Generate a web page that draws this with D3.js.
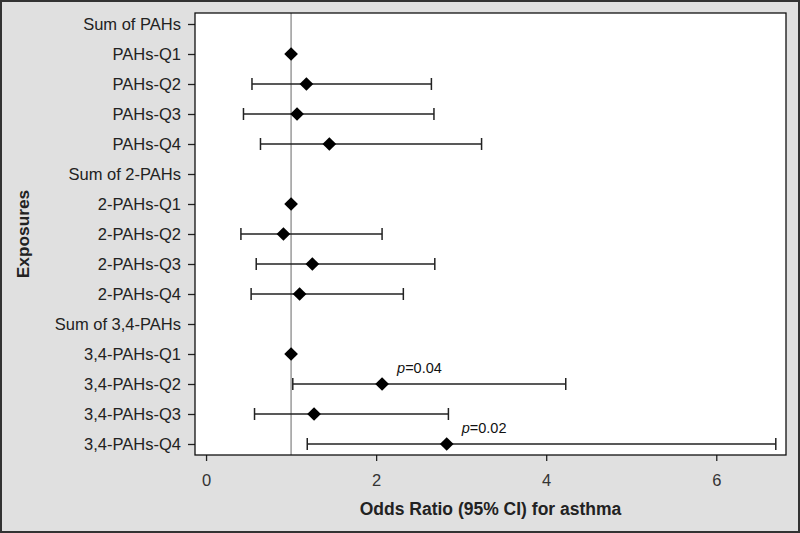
<!DOCTYPE html>
<html>
<head>
<meta charset="utf-8">
<script src="https://cdn.jsdelivr.net/npm/d3@7/dist/d3.min.js"></script>
<style>
  html, body { margin: 0; padding: 0; background: #fff; }
  svg { display: block; font-family: "Liberation Sans", Arial, sans-serif; }
</style>
</head>
<body>
<div id="chart"></div>
<script>
// --- datos ---
const exposures = [
  "Sum of PAHs", "PAHs-Q1", "PAHs-Q2", "PAHs-Q3", "PAHs-Q4",
  "Sum of 2-PAHs", "2-PAHs-Q1", "2-PAHs-Q2", "2-PAHs-Q3", "2-PAHs-Q4",
  "Sum of 3,4-PAHs", "3,4-PAHs-Q1", "3,4-PAHs-Q2", "3,4-PAHs-Q3", "3,4-PAHs-Q4"
];
// null = sin estimación (fila de encabezado)
const oddsRatio = [null, 1.00, 1.18, 1.07, 1.45, null, 1.00, 0.91, 1.25, 1.10, null, 1.00, 2.07, 1.27, 2.83];
const ciLower   = [null, null, 0.54, 0.44, 0.64, null, null, 0.41, 0.59, 0.53, null, null, 1.02, 0.57, 1.19];
const ciUpper   = [null, null, 2.65, 2.68, 3.24, null, null, 2.07, 2.69, 2.32, null, null, 4.23, 2.85, 6.70];
const pLabels   = [null, null, null, null, null, null, null, null, null, null, null, null, "0.04", null, "0.02"];
const xTicks = [0, 2, 4, 6];

const W = 800, H = 533;
const margin = {top: 13, right: 14, bottom: 78, left: 195};
const width = W - margin.left - margin.right,
      height = H - margin.top - margin.bottom;
const FONT = "'Liberation Sans', Arial, sans-serif";

const data = exposures.map((e, i) => ({
  name: e, or: oddsRatio[i], lo: ciLower[i], hi: ciUpper[i], p: pLabels[i]
}));

const svg = d3.select("#chart").append("svg")
  .attr("width", W).attr("height", H);

// fondo gris y borde exterior
svg.append("rect")
  .attr("x", 1).attr("y", 1).attr("width", W - 2).attr("height", H - 2)
  .attr("fill", "#e0e0e0").attr("stroke", "#333").attr("stroke-width", 2);

const g = svg.append("g").attr("transform", `translate(${margin.left},${margin.top})`);

// área del gráfico
g.append("rect")
  .attr("width", width).attr("height", height)
  .attr("fill", "#fff");

// --- escalas ---
const x = d3.scaleLinear().domain([-0.13, 6.82]).range([0, width]);
const y = d3.scalePoint().domain(exposures).range([11, height - 11]);

// línea de referencia OR = 1
g.append("line")
  .attr("x1", x(1)).attr("x2", x(1))
  .attr("y1", 0).attr("y2", height)
  .attr("stroke", "#9a9a9a").attr("stroke-width", 1.5);

// --- ejes ---
const xAxis = g.append("g")
  .attr("transform", `translate(0,${height})`)
  .call(d3.axisBottom(x).tickValues(xTicks).tickSize(6).tickPadding(13).tickFormat(d3.format("d")));
xAxis.select(".domain").remove();
xAxis.selectAll("line").attr("stroke", "#222").attr("stroke-width", 1.3);
xAxis.selectAll("text").attr("font-size", 16.5).attr("fill", "#333").attr("font-family", FONT);

const yAxis = g.append("g")
  .call(d3.axisLeft(y).tickSize(7).tickPadding(7));
yAxis.select(".domain").remove();
yAxis.selectAll("line").attr("stroke", "#222").attr("stroke-width", 1.3);
yAxis.selectAll("text").attr("font-size", 16.5).attr("fill", "#222").attr("font-family", FONT);

// marco del área
g.append("rect")
  .attr("width", width).attr("height", height)
  .attr("fill", "none").attr("stroke", "#111").attr("stroke-width", 1.3);

// --- intervalos de confianza ---
const ci = data.filter(d => d.lo != null);
const cap = 6;
const bars = g.selectAll(".ci").data(ci).enter().append("g")
  .attr("stroke", "#222").attr("stroke-width", 1.5);
bars.append("line")
  .attr("x1", d => x(d.lo)).attr("x2", d => x(d.hi))
  .attr("y1", d => y(d.name)).attr("y2", d => y(d.name));
bars.append("line")
  .attr("x1", d => x(d.lo)).attr("x2", d => x(d.lo))
  .attr("y1", d => y(d.name) - cap).attr("y2", d => y(d.name) + cap);
bars.append("line")
  .attr("x1", d => x(d.hi)).attr("x2", d => x(d.hi))
  .attr("y1", d => y(d.name) - cap).attr("y2", d => y(d.name) + cap);

// --- rombos (OR) ---
g.selectAll(".pt").data(data.filter(d => d.or != null)).enter()
  .append("path")
  .attr("transform", d => `translate(${x(d.or)},${y(d.name)})`)
  .attr("d", d3.symbol(d3.symbolDiamond2, 120)())
  .attr("fill", "#000");

// etiquetas de p
const pt = g.selectAll(".plab").data(data.filter(d => d.p)).enter()
  .append("text")
  .attr("x", d => x(d.or) + 15)
  .attr("y", d => y(d.name) - 11)
  .attr("font-size", 14.5).attr("fill", "#111");
pt.append("tspan").attr("font-style", "italic").text("p");
pt.append("tspan").text(d => "=" + d.p);

// --- títulos de ejes ---
svg.append("text")
  .attr("x", margin.left + width / 2).attr("y", 515)
  .attr("text-anchor", "middle")
  .attr("font-size", 17.5).attr("font-weight", "bold").attr("fill", "#222")
  .text("Odds Ratio (95% CI) for asthma");

svg.append("text")
  .attr("transform", `translate(29,${margin.top + height / 2}) rotate(-90)`)
  .attr("text-anchor", "middle")
  .attr("font-size", 17.3).attr("font-weight", "bold").attr("fill", "#222")
  .text("Exposures");
</script>
</body>
</html>
